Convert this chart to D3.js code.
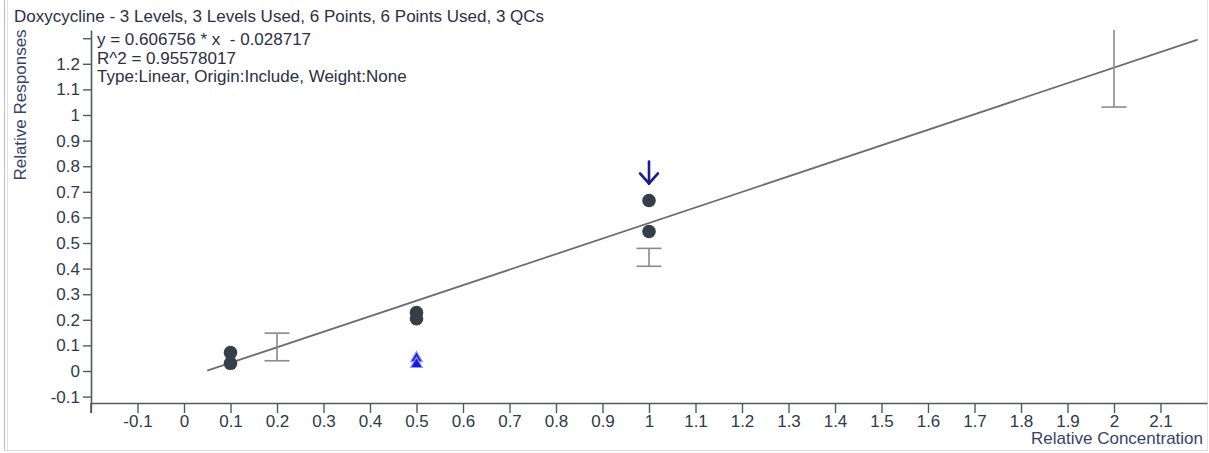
<!DOCTYPE html>
<html><head><meta charset="utf-8">
<script src="https://cdn.jsdelivr.net/npm/d3@7"></script>
<style>
html,body{margin:0;padding:0;background:#fff;}
svg{display:block;font-family:"Liberation Sans",Arial,sans-serif;}
</style></head>
<body>
<svg id="chart" width="1209" height="453"></svg>
<script>
// ---- data ----
const title = "Doxycycline - 3 Levels, 3 Levels Used, 6 Points, 6 Points Used, 3 QCs";
const infoLines = ["y = 0.606756 * x  - 0.028717", "R^2 = 0.95578017", "Type:Linear, Origin:Include, Weight:None"];
const slope = 0.606756, intercept = -0.028717;
const fitRange = [0.05, 2.18];
const calX = [0.1, 0.1, 0.5, 0.5, 1.0, 1.0];
const calY = [0.072, 0.030, 0.228, 0.204, 0.666, 0.545];
const triX = [0.5, 0.5];
const triY = [0.050, 0.027];
const qcX = [0.2, 1.0, 2.0];
const qcLow = [0.040, 0.409, 1.031];
const qcHigh = [0.148, 0.479, 1.36];
const flagX = [1.0];
const flagY = [0.795];
const xTickVals = [-0.2,-0.1,0,0.1,0.2,0.3,0.4,0.5,0.6,0.7,0.8,0.9,1.0,1.1,1.2,1.3,1.4,1.5,1.6,1.7,1.8,1.9,2.0,2.1];
const xTickLabels = ["","-0.1","0","0.1","0.2","0.3","0.4","0.5","0.6","0.7","0.8","0.9","1","1.1","1.2","1.3","1.4","1.5","1.6","1.7","1.8","1.9","2","2.1"];
const yTickVals = [-0.1,0,0.1,0.2,0.3,0.4,0.5,0.6,0.7,0.8,0.9,1.0,1.1,1.2,1.3];
const yTickLabels = ["-0.1","0","0.1","0.2","0.3","0.4","0.5","0.6","0.7","0.8","0.9","1","1.1","1.2",""];
const xLabel = "Relative Concentration", yLabel = "Relative Responses";

// ---- layout ----
const svg = d3.select("#chart");
const x = d3.scaleLinear().domain([-0.2, 2.2]).range([91, 1207]);
const y = d3.scaleLinear().domain([-0.125, 1.332]).range([403, 30]);
const textCol = "#2f3a48", axisCol = "#505a63";
const FS = 17;

// panel borders
svg.append("line").attr("x1",4.5).attr("x2",4.5).attr("y1",0).attr("y2",451).attr("stroke","#b8bcc0");
svg.append("line").attr("x1",7.5).attr("x2",7.5).attr("y1",0).attr("y2",451).attr("stroke","#e2e4e6");
svg.append("line").attr("x1",4).attr("x2",1208).attr("y1",450.5).attr("y2",450.5).attr("stroke","#d8dadc");
svg.append("line").attr("x1",1207.5).attr("x2",1207.5).attr("y1",0).attr("y2",451).attr("stroke","#e2e4e6");

// axes
const xAxis = d3.axisBottom(x).tickValues(xTickVals).tickSize(10).tickSizeOuter(0)
  .tickFormat((d,i)=>xTickLabels[i]);
const gx = svg.append("g").attr("transform","translate(0,403)").call(xAxis);
const yAxis = d3.axisLeft(y).tickValues(yTickVals).tickSize(8).tickSizeOuter(0)
  .tickFormat((d,i)=>yTickLabels[i]);
const gy = svg.append("g").attr("transform","translate(91,0)").call(yAxis);
[gx,gy].forEach(g=>{
  g.select(".domain").attr("stroke",axisCol).attr("stroke-width",1.6);
  g.selectAll(".tick line").attr("stroke",axisCol).attr("stroke-width",1.4);
  g.selectAll(".tick text").attr("fill",textCol).attr("font-size",FS)
   .attr("font-family","'Liberation Sans',Arial,sans-serif");
});
gx.selectAll(".tick text").attr("dy","0.71em").attr("y",12);
gy.selectAll(".tick text").attr("x",-11);
// extend y axis below x-axis
svg.append("line").attr("x1",91).attr("x2",91).attr("y1",403).attr("y2",413)
  .attr("stroke",axisCol).attr("stroke-width",1.6);

// axis titles
svg.append("text").attr("x",1203).attr("y",444).attr("text-anchor","end")
  .attr("font-size",FS).attr("fill","#3a3f6a").text(xLabel);
svg.append("text").attr("transform","translate(26,105) rotate(-90)").attr("text-anchor","middle")
  .attr("font-size",FS).attr("fill","#3a3f6a").text(yLabel);

// title & info
svg.append("text").attr("x",14).attr("y",22).attr("font-size",FS).attr("fill","#2a2f45").text(title);
svg.selectAll("text.info").data(infoLines).join("text").attr("class","info")
  .attr("x",97).attr("y",(d,i)=>45+i*18.5).attr("font-size",FS).attr("fill","#2a2f45")
  .style("white-space","pre").text(d=>d);

// clip
svg.append("clipPath").attr("id","plot").append("rect").attr("x",91).attr("y",30).attr("width",1116).attr("height",373);
const plot = svg.append("g").attr("clip-path","url(#plot)");

// regression line
plot.append("line")
  .attr("x1",x(fitRange[0])).attr("y1",y(slope*fitRange[0]+intercept))
  .attr("x2",x(fitRange[1])).attr("y2",y(slope*fitRange[1]+intercept))
  .attr("stroke","#6a6e73").attr("stroke-width",1.8);

// QC bars
const qc = qcX.map((v,i)=>({x:v,lo:qcLow[i],hi:qcHigh[i]}));
const qg = plot.selectAll("g.qc").data(qc).join("g").attr("class","qc")
  .attr("stroke","#8a8a8a").attr("stroke-width",1.6);
qg.append("line").attr("x1",d=>x(d.x)).attr("x2",d=>x(d.x)).attr("y1",d=>y(d.lo)).attr("y2",d=>y(d.hi));
qg.append("line").attr("x1",d=>x(d.x)-12.5).attr("x2",d=>x(d.x)+12.5).attr("y1",d=>y(d.lo)).attr("y2",d=>y(d.lo));
qg.append("line").attr("x1",d=>x(d.x)-12.5).attr("x2",d=>x(d.x)+12.5).attr("y1",d=>y(d.hi)).attr("y2",d=>y(d.hi));

// calibration points
plot.selectAll("circle.cal").data(calX.map((v,i)=>[v,calY[i]])).join("circle").attr("class","cal")
  .attr("cx",d=>x(d[0])).attr("cy",d=>y(d[1])).attr("r",6.8).attr("fill","#353f4a");

// triangles
const tri = d3.symbol().type(d3.symbolTriangle).size(60);
plot.selectAll("path.tri").data(triX.map((v,i)=>[v,triY[i]])).join("path").attr("class","tri")
  .attr("d",tri).attr("transform",d=>`translate(${x(d[0])},${y(d[1])})`)
  .attr("fill","#1a1ad6").attr("stroke","#8f9cff").attr("stroke-width",1.2);

// flag arrows
const fg = plot.selectAll("g.flag").data(flagX.map((v,i)=>[v,flagY[i]])).join("g").attr("class","flag")
  .attr("transform",d=>`translate(${x(d[0])},${y(d[1])})`)
  .attr("stroke","#1c1c8a").attr("stroke-width",2.6).attr("fill","none").attr("stroke-linecap","round");
fg.append("line").attr("x1",0).attr("x2",0).attr("y1",-6).attr("y2",16);
fg.append("polyline").attr("points","-9,6 0,16 9,6");
</script>
</body></html>
